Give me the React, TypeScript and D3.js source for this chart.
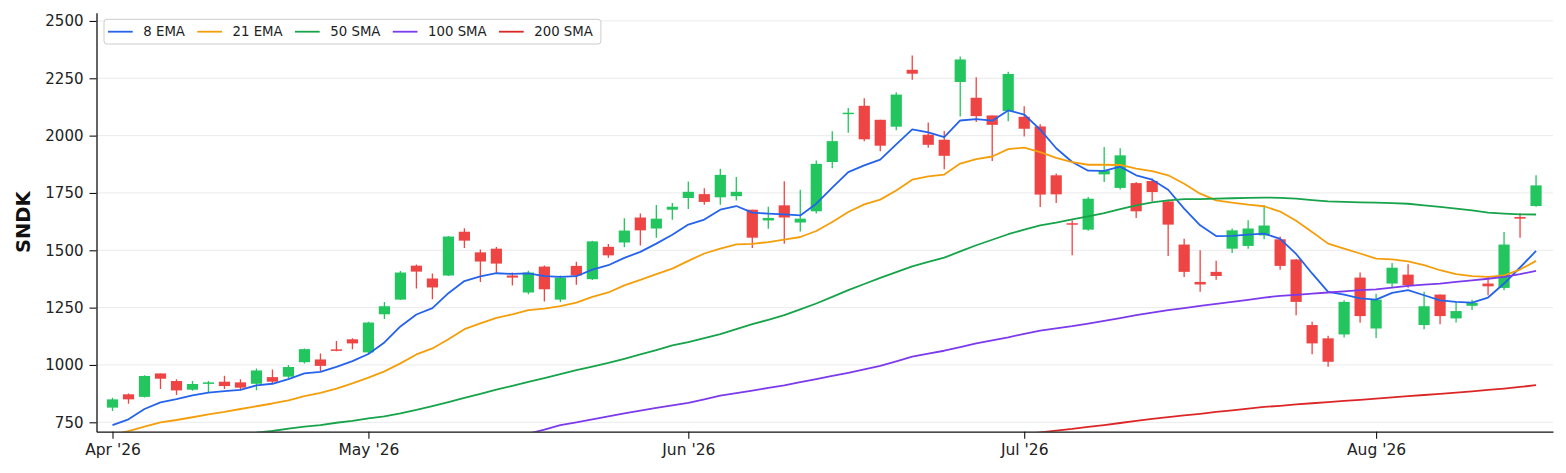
import { useEffect, useRef } from "react";
import * as d3 from "d3";

// OHLC, one entry per trading day (Apr 9 .. Aug 17, 2026)
const opens = [
  814, 872, 861, 963, 930, 892, 921, 927, 924, 918, 947, 949, 1012, 1024, 1068, 1112, 1055, 1221, 1285, 1433,
  1377, 1390, 1581, 1491, 1507, 1390, 1316, 1429, 1285, 1432, 1374, 1515, 1534, 1643, 1595, 1677, 1728, 1745, 1731, 1736,
  1677, 1630, 1696, 1621, 1670, 1885, 2094, 2130, 2069, 2039, 2287, 2004, 1982, 2234, 2165, 2088, 2107, 2082, 2040, 1827,
  1618, 1590, 1831, 1772, 1793, 1802, 1713, 1525, 1362, 1406, 1507, 1519, 1565, 1548, 1460, 1174, 1116, 1133, 1381, 1159,
  1355, 1394, 1174, 1307, 1203, 1258, 1355, 1336, 1645, 1693,
];
const highs = [
  857, 876, 955, 963, 938, 930, 930, 953, 938, 985, 980, 1000, 1072, 1050, 1104, 1116, 1188, 1274, 1410, 1438,
  1399, 1562, 1596, 1504, 1514, 1403, 1411, 1434, 1390, 1450, 1542, 1527, 1640, 1660, 1697, 1706, 1800, 1770, 1856, 1820,
  1677, 1690, 1801, 1764, 1891, 2019, 2121, 2163, 2069, 2189, 2349, 2057, 2020, 2345, 2255, 2088, 2279, 2128, 2050, 1835,
  1631, 1732, 1950, 1945, 1798, 1813, 1720, 1550, 1500, 1454, 1595, 1631, 1696, 1560, 1462, 1188, 1127, 1282, 1403, 1311,
  1445, 1439, 1319, 1307, 1275, 1284, 1387, 1580, 1662, 1827,
];
const lows = [
  799, 831, 858, 895, 869, 888, 878, 895, 890, 890, 917, 943, 1006, 974, 1060, 1068, 1050, 1200, 1283, 1333,
  1287, 1388, 1510, 1362, 1401, 1346, 1308, 1277, 1275, 1350, 1370, 1467, 1513, 1521, 1555, 1633, 1680, 1699, 1699, 1717,
  1510, 1594, 1529, 1582, 1660, 1858, 2013, 1975, 1932, 2023, 2244, 1947, 1853, 2083, 2059, 1889, 2063, 1996, 1689, 1706,
  1478, 1585, 1798, 1765, 1641, 1713, 1475, 1384, 1319, 1372, 1488, 1507, 1548, 1415, 1217, 1047, 992, 1120, 1184, 1118,
  1336, 1337, 1156, 1178, 1185, 1240, 1304, 1326, 1555, 1690,
];
const closes = [
  850, 850, 952, 940, 889, 917, 924, 908, 901, 976, 927, 991, 1069, 996, 1065, 1094, 1185, 1256, 1403, 1407,
  1338, 1560, 1542, 1451, 1442, 1381, 1403, 1330, 1381, 1390, 1539, 1478, 1586, 1587, 1638, 1690, 1755, 1711, 1829, 1755,
  1555, 1641, 1643, 1638, 1877, 1976, 2100, 1984, 1956, 2179, 2270, 1960, 1912, 2332, 2085, 2047, 2269, 2030, 1743, 1744,
  1612, 1725, 1848, 1914, 1670, 1754, 1612, 1406, 1351, 1388, 1587, 1595, 1608, 1432, 1275, 1094, 1014, 1275, 1213, 1285,
  1424, 1348, 1256, 1213, 1235, 1271, 1343, 1525, 1638, 1783,
];

// moving averages; each starts at the given candle index
const ema8Start = 0;
const ema8 = [
  738, 763, 808, 837, 851, 867, 879, 886, 891, 911, 918, 938, 963, 970, 992, 1017, 1048, 1098, 1168, 1220,
  1248, 1313, 1366, 1386, 1400, 1397, 1399, 1387, 1384, 1387, 1416, 1435, 1467, 1493, 1529, 1568, 1612, 1634, 1677, 1693,
  1664, 1660, 1657, 1652, 1703, 1773, 1841, 1870, 1895, 1962, 2027, 2014, 1993, 2066, 2072, 2065, 2110, 2092, 2026, 1945,
  1885, 1847, 1846, 1865, 1827, 1808, 1764, 1682, 1609, 1562, 1563, 1568, 1573, 1550, 1484, 1399, 1319, 1307, 1290, 1285,
  1314, 1326, 1304, 1282, 1275, 1272, 1294, 1355, 1425, 1497,
];
const ema21Start = 0;
const ema21 = [
  695, 712, 731, 750, 760, 772, 785, 795, 808, 820, 832, 846, 864, 878, 897, 920, 945, 972, 1007, 1046,
  1072, 1112, 1156, 1181, 1205, 1221, 1239, 1246, 1257, 1272, 1297, 1316, 1347, 1371, 1396, 1420, 1454, 1486, 1507, 1526,
  1528, 1536, 1547, 1558, 1584, 1623, 1667, 1700, 1721, 1761, 1808, 1822, 1830, 1878, 1898, 1909, 1941, 1948, 1928, 1903,
  1884, 1873, 1873, 1872, 1856, 1845, 1827, 1790, 1747, 1718, 1708, 1699, 1692, 1669, 1629, 1580, 1529, 1507, 1486, 1464,
  1460, 1452, 1435, 1413, 1396, 1387, 1384, 1391, 1416, 1454,
];
const sma50Start = 9;
const sma50 = [
  705, 712, 722, 731, 738, 748, 756, 767, 776, 789, 804, 821, 838, 856, 874, 892, 909, 926, 943, 960,
  977, 993, 1009, 1027, 1046, 1065, 1085, 1100, 1117, 1134, 1156, 1178, 1197, 1217, 1242, 1268, 1297, 1326, 1353, 1380,
  1405, 1430, 1449, 1468, 1495, 1522, 1546, 1570, 1590, 1609, 1621, 1635, 1648, 1662, 1679, 1696, 1709, 1718, 1723, 1723,
  1725, 1727, 1729, 1730, 1729, 1725, 1719, 1713, 1711, 1709, 1708, 1706, 1703, 1696, 1689, 1682, 1674, 1664, 1660, 1657,
  1656,
];
const sma100Start = 26;
const sma100 = [
  700, 718, 738, 750, 763, 776, 789, 801, 813, 824, 835, 850, 866, 877, 888, 900, 911, 925, 938, 952,
  966, 981, 996, 1016, 1036, 1049, 1062, 1078, 1094, 1107, 1120, 1136, 1150, 1160, 1169, 1180, 1192, 1204, 1217, 1228,
  1239, 1248, 1258, 1266, 1275, 1284, 1294, 1301, 1306, 1311, 1316, 1321, 1326, 1330, 1337, 1345, 1350, 1355, 1362, 1369,
  1376, 1384, 1396, 1410,
];
const sma200Start = 57;
const sma200 = [
  698, 706, 714, 721, 730, 738, 747, 756, 765, 773, 780, 787, 795, 802, 810, 817, 822, 828, 833, 838,
  843, 848, 853, 859, 864, 869, 874, 879, 885, 891, 897, 904, 912,
];

const maNames = ["8 EMA", "21 EMA", "50 SMA", "100 SMA", "200 SMA"];
const maColors = ["#2563eb", "#f59e0b", "#16a34a", "#7c3aed", "#dc2626"];

const monthLabels = ["Apr '26", "May '26", "Jun '26", "Jul '26", "Aug '26"];
const monthStartIdx = [0, 16, 36, 57, 79];
const yTicks = [750, 1000, 1250, 1500, 1750, 2000, 2250, 2500];

const W = 1566;
const H = 473;
const plot = { left: 96.5, right: 1553, top: 12.7, bottom: 431.7 };
const FONT = "DejaVu Sans, sans-serif";

export default function App() {
  const svgRef = useRef<SVGSVGElement>(null);

  useEffect(() => {
    if (!svgRef.current) return;
    const svg = d3.select(svgRef.current);
    svg.selectAll("*").remove();

    const x = d3.scaleLinear().domain([-1, 90.06]).range([plot.left, plot.right]);
    const y = d3.scaleLinear().domain([709, 2536]).range([plot.bottom, plot.top]);

    svg
      .append("defs")
      .append("clipPath")
      .attr("id", "plot-clip")
      .append("rect")
      .attr("x", plot.left)
      .attr("y", plot.top)
      .attr("width", plot.right - plot.left)
      .attr("height", plot.bottom - plot.top);

    // horizontal grid
    svg
      .append("g")
      .selectAll("line")
      .data(yTicks)
      .join("line")
      .attr("x1", plot.left)
      .attr("x2", plot.right)
      .attr("y1", (d) => y(d))
      .attr("y2", (d) => y(d))
      .attr("stroke", "#e8e8e8")
      .attr("stroke-width", 0.9);

    const g = svg.append("g").attr("clip-path", "url(#plot-clip)");

    // candles
    const bodyW = 11.2;
    const candles = g
      .selectAll("g.candle")
      .data(d3.range(opens.length))
      .join("g")
      .attr("class", "candle");
    const col = (i: number) => (closes[i] >= opens[i] ? "#22c55e" : "#ef4444");
    candles
      .append("line")
      .attr("x1", (i) => x(i))
      .attr("x2", (i) => x(i))
      .attr("y1", (i) => y(highs[i]))
      .attr("y2", (i) => y(lows[i]))
      .attr("stroke", col)
      .attr("stroke-width", 1.3);
    candles
      .append("rect")
      .attr("x", (i) => x(i) - bodyW / 2)
      .attr("width", bodyW)
      .attr("y", (i) => y(Math.max(opens[i], closes[i])))
      .attr("height", (i) => Math.max(1.5, Math.abs(y(opens[i]) - y(closes[i]))))
      .attr("fill", col);

    // moving averages
    const series = [
      { start: ema8Start, values: ema8 },
      { start: ema21Start, values: ema21 },
      { start: sma50Start, values: sma50 },
      { start: sma100Start, values: sma100 },
      { start: sma200Start, values: sma200 },
    ];
    const line = d3
      .line<[number, number]>()
      .x((d) => x(d[0]))
      .y((d) => y(d[1]));
    series.forEach((s, k) => {
      const pts: [number, number][] = s.values.map((v, j) => [s.start + j, v]);
      g.append("path")
        .attr("d", line(pts))
        .attr("fill", "none")
        .attr("stroke", maColors[k])
        .attr("stroke-width", 1.8)
        .attr("stroke-linejoin", "round");
    });

    // axes
    const yAxis = svg
      .append("g")
      .attr("transform", `translate(${plot.left},0)`)
      .call(
        d3
          .axisLeft(y)
          .tickValues(yTicks)
          .tickFormat(d3.format("d"))
          .tickSize(7)
          .tickPadding(6)
          .tickSizeOuter(0)
      );
    yAxis.select(".domain").attr("stroke", "#111").attr("stroke-width", 1.3);
    yAxis.selectAll(".tick line").attr("stroke", "#111").attr("stroke-width", 1.1);
    yAxis
      .selectAll("text")
      .attr("font-family", FONT)
      .attr("font-size", "15px")
      .attr("fill", "#222");

    const xAxis = svg
      .append("g")
      .attr("transform", `translate(0,${plot.bottom})`)
      .call(
        d3
          .axisBottom(x)
          .tickValues(monthStartIdx)
          .tickFormat((_d, i) => monthLabels[i])
          .tickSize(7)
          .tickPadding(5)
          .tickSizeOuter(0)
      );
    xAxis.select(".domain").attr("stroke", "#111").attr("stroke-width", 1.3);
    xAxis.selectAll(".tick line").attr("stroke", "#111").attr("stroke-width", 1.1);
    xAxis
      .selectAll("text")
      .attr("font-family", FONT)
      .attr("font-size", "15.5px")
      .attr("fill", "#222");

    // y label
    svg
      .append("text")
      .attr("transform", `translate(29.5,${(plot.top + plot.bottom) / 2}) rotate(-90)`)
      .attr("text-anchor", "middle")
      .attr("font-family", FONT)
      .attr("font-weight", "bold")
      .attr("font-size", "19.5px")
      .attr("fill", "#111")
      .text("SNDK");

    // legend
    const leg = svg.append("g");
    const box = leg
      .append("rect")
      .attr("x", 104)
      .attr("y", 19.3)
      .attr("height", 24.7)
      .attr("rx", 3)
      .attr("fill", "white")
      .attr("fill-opacity", 0.85)
      .attr("stroke", "#cccccc")
      .attr("stroke-width", 1);
    let cx = 108;
    maNames.forEach((name, k) => {
      leg
        .append("line")
        .attr("x1", cx)
        .attr("x2", cx + 24.7)
        .attr("y1", 31.7)
        .attr("y2", 31.7)
        .attr("stroke", maColors[k])
        .attr("stroke-width", 1.8);
      const t = leg
        .append("text")
        .attr("x", cx + 35.3)
        .attr("y", 36.2)
        .attr("font-family", FONT)
        .attr("font-size", "13.3px")
        .attr("fill", "#222")
        .text(name);
      const w = (t.node() as SVGTextElement).getComputedTextLength();
      cx = cx + 35.3 + w + 12.3;
    });
    box.attr("width", cx - 12.3 + 8 - 104);
  }, []);

  return (
    <svg
      ref={svgRef}
      width={W}
      height={H}
      style={{ position: "absolute", left: 0, top: 0, background: "white" }}
    />
  );
}
